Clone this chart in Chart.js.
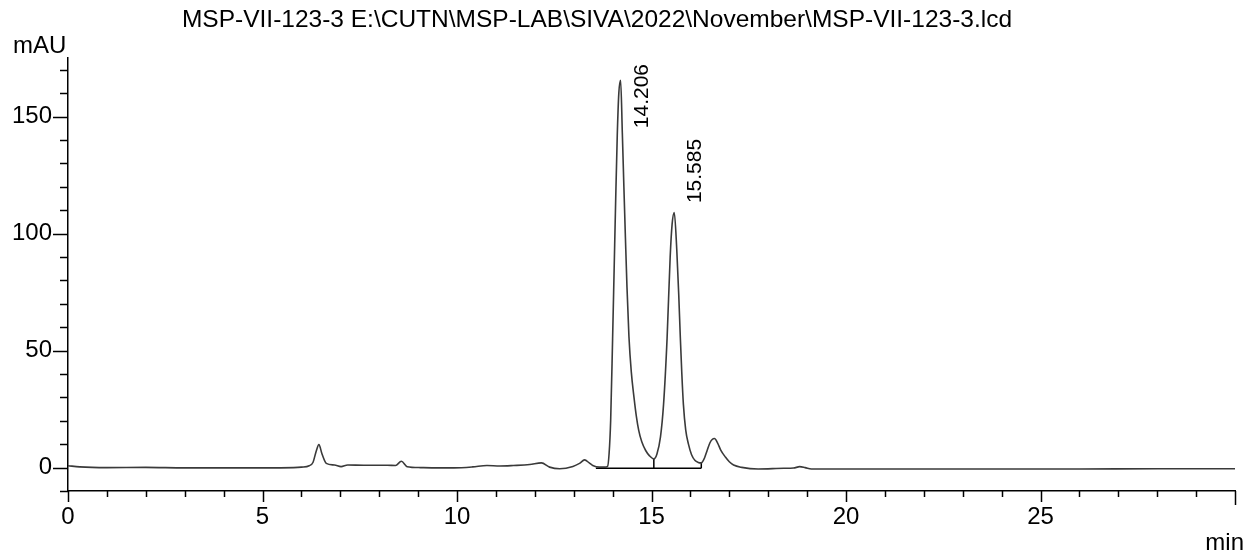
<!DOCTYPE html>
<html>
<head>
<meta charset="utf-8">
<script src="https://cdn.jsdelivr.net/npm/chart.js@4.4.1/dist/chart.umd.min.js"></script>
<style>
  html, body { margin: 0; padding: 0; background: #fff; }
  #wrap { width: 1247px; height: 554px; position: relative; }
</style>
</head>
<body>
<div id="wrap"><canvas id="c" width="1247" height="554"></canvas></div>
<script>
// ---- Data ----
const chartTitle = "MSP-VII-123-3 E:\\CUTN\\MSP-LAB\\SIVA\\2022\\November\\MSP-VII-123-3.lcd";
const yUnit = "mAU";
const xUnit = "min";

const timeMin = [
  0, 0.3, 1.0, 2.0, 3.0, 4.0, 5.0, 5.8, 6.0, 6.2, 6.3, 6.38, 6.45, 6.53, 6.64, 6.85,
  7.02, 7.19, 7.6, 8.0, 8.21, 8.42, 8.57, 8.72, 9.06, 9.5, 9.92, 10.4, 10.77, 11.1,
  11.45, 11.87, 12.17, 12.38, 12.64, 12.98, 13.15, 13.28, 13.4, 13.49, 13.66, 13.8,
  13.87, 13.91, 13.95, 14.0, 14.04, 14.08, 14.12, 14.16, 14.206, 14.25, 14.29, 14.33,
  14.37, 14.42, 14.48, 14.55, 14.61, 14.67, 14.75, 14.85, 14.95, 15.06, 15.14, 15.23,
  15.31, 15.4, 15.48, 15.53, 15.585, 15.65, 15.7, 15.74, 15.78, 15.82, 15.88, 15.95,
  16.03, 16.12, 16.2, 16.28, 16.36, 16.43, 16.5, 16.56, 16.62, 16.7, 16.78, 16.9,
  17.0, 17.11, 17.32, 17.74, 18.4, 18.65, 18.81, 18.95, 19.11, 20.5, 22.0, 24.0,
  26.0, 28.0, 29.0, 30.0
];
const absorbance = [
  0.8, 0.3, 0.0, 0.1, -0.1, -0.1, -0.1, 0.0, 0.2, 0.8, 2.3, 7.0, 9.8, 5.8, 1.8, 1.1,
  0.4, 1.1, 1.0, 1.0, 1.0, 0.9, 2.7, 0.4, 0.0, -0.1, -0.1, 0.3, 0.9, 0.7,
  0.9, 1.3, 2.0, 0.2, -0.5, 0.5, 1.8, 3.3, 2.0, 0.9, 0.2, 0.2,
  0.5, 6.0, 20, 55, 85, 115, 142, 160, 165.5, 143, 120, 98,
  77, 56, 41, 30, 22, 16, 11, 7.3, 5.0, 3.7, 5.8, 13,
  27, 55, 90, 104, 109, 93, 74, 56, 40, 27, 16, 10,
  5.5, 3.0, 2.2, 2.0, 4.0, 7.3, 10.5, 12.0, 12.4, 10.5, 7.5, 4.5,
  2.5, 1.1, 0.1, -0.6, -0.3, -0.2, 0.4, 0.0, -0.6, -0.6, -0.6, -0.6,
  -0.6, -0.5, -0.5, -0.5
];

// integration baseline (start, peak divider, end) and valley heights
const baselineTimes = [13.57, 15.06, 16.28];
const baselineLevel = [-0.3, -0.3, -0.3];
const dividerTops = [0.0, 3.7, 2.0];

// peak annotations
const peakTimes = [14.206, 15.585];
const peakLabels = ["14.206", "15.585"];
const peakLabelBase = [145, 113];   // value (mAU) where each rotated label starts

const yTicksMajor = [0, 50, 100, 150];
const xTicksMajor = [0, 5, 10, 15, 20, 25];

// ---- build datasets ----
const trace = timeMin.map((t, i) => ({ x: t, y: absorbance[i] }));
const baseline = [
  { x: baselineTimes[0], y: baselineLevel[0] },
  { x: baselineTimes[2], y: baselineLevel[2] }
];
const dividers = [];
for (let i = 1; i < baselineTimes.length; i++) {
  dividers.push({ x: baselineTimes[i], y: baselineLevel[i] });
  dividers.push({ x: baselineTimes[i], y: dividerTops[i] });
  dividers.push({ x: baselineTimes[i], y: null });
}

const FONT = "'Liberation Sans', Arial, sans-serif";

const decorPlugin = {
  id: 'decor',
  afterDraw(chart) {
    const ctx = chart.ctx;
    const xs = chart.scales.x, ys = chart.scales.y;
    const area = chart.chartArea;
    ctx.save();
    ctx.strokeStyle = '#000';
    ctx.lineWidth = 1.5;
    // y ticks
    for (let v = -10; v <= 170; v += 10) {
      const py = Math.round(ys.getPixelForValue(v)) + 0.5;
      const len = yTicksMajor.includes(v) ? 15 : 8;
      ctx.beginPath();
      ctx.moveTo(area.left - len, py);
      ctx.lineTo(area.left, py);
      ctx.stroke();
    }
    // x ticks
    for (let v = 0; v <= 30; v += 1) {
      const px = Math.round(xs.getPixelForValue(v)) + 0.5;
      const len = v === 30 ? 14 : (xTicksMajor.includes(v) ? 11 : 6);
      ctx.beginPath();
      ctx.moveTo(px, area.bottom);
      ctx.lineTo(px, area.bottom + len);
      ctx.stroke();
    }
    // texts
    ctx.fillStyle = '#000';
    ctx.font = "24.5px " + FONT;
    ctx.textBaseline = 'alphabetic';
    ctx.textAlign = 'center';
    ctx.fillText(chartTitle, 597, 27);
    ctx.font = "24px " + FONT;
    ctx.textAlign = 'left';
    ctx.fillText(yUnit, 13, 53);
    ctx.textAlign = 'right';
    ctx.fillText(xUnit, 1244, 550);
    // peak labels (rotated)
    ctx.font = "21px " + FONT;
    ctx.textAlign = 'left';
    for (let i = 0; i < peakTimes.length; i++) {
      const px = xs.getPixelForValue(peakTimes[i]) + 27;
      const py = ys.getPixelForValue(peakLabelBase[i]);
      ctx.save();
      ctx.translate(px, py);
      ctx.rotate(-Math.PI / 2);
      ctx.fillText(peakLabels[i], 0, 0);
      ctx.restore();
    }
    ctx.restore();
  }
};

new Chart(document.getElementById('c'), {
  type: 'scatter',
  data: {
    datasets: [
      { data: trace, showLine: true, borderColor: '#3a3a3a', borderWidth: 1.6,
        pointRadius: 0, cubicInterpolationMode: 'monotone', order: 1 },
      { data: baseline, showLine: true, borderColor: '#000', borderWidth: 1.5,
        pointRadius: 0, order: 2 },
      { data: dividers, showLine: true, borderColor: '#000', borderWidth: 1.5,
        pointRadius: 0, spanGaps: false, order: 2 }
    ]
  },
  options: {
    responsive: false,
    animation: false,
    devicePixelRatio: 1,
    layout: { padding: { top: 58, right: 3, left: 0, bottom: 0 } },
    plugins: { legend: { display: false }, tooltip: { enabled: false }, title: { display: false } },
    scales: {
      x: {
        type: 'linear', min: 0, max: 30,
        afterFit(s) { s.height = 63; },
        border: { display: true, color: '#000', width: 1.5 },
        grid: { display: false, drawTicks: false },
        ticks: {
          stepSize: 1, autoSkip: false, maxRotation: 0, padding: 12,
          color: '#000', font: { family: FONT, size: 24 },
          callback: v => xTicksMajor.includes(v) ? String(v) : ''
        }
      },
      y: {
        type: 'linear', min: -10, max: 175,
        afterFit(s) { s.width = 68; },
        border: { display: true, color: '#000', width: 1.5 },
        grid: { display: false, drawTicks: false },
        ticks: {
          stepSize: 10, autoSkip: false, padding: 16,
          color: '#000', font: { family: FONT, size: 24 },
          callback: v => yTicksMajor.includes(v) ? String(v) : ''
        }
      }
    }
  },
  plugins: [decorPlugin]
});
</script>
</body>
</html>
